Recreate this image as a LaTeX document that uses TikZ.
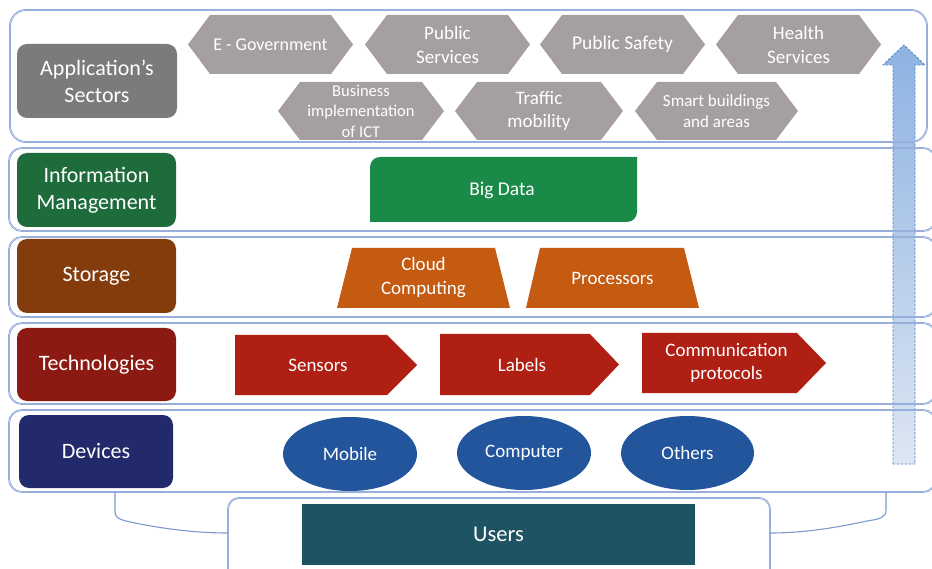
\documentclass[tikz,border=0pt]{standalone}
\usepackage{fontspec}
\setmainfont{Carlito}
\usetikzlibrary{shapes.geometric}

\definecolor{framecol}{HTML}{7C9AD0}
\definecolor{framelite}{HTML}{C9D6EE}
\definecolor{appgray}{HTML}{7B7B7B}
\definecolor{hexgray}{HTML}{A5A09F}
\definecolor{infogreen}{HTML}{1E6B3C}
\definecolor{bdgreen}{HTML}{198A48}
\definecolor{storebrown}{HTML}{843C0C}
\definecolor{storeorange}{HTML}{C55A11}
\definecolor{techred}{HTML}{8C1A12}
\definecolor{arrowred}{HTML}{B01F14}
\definecolor{devnavy}{HTML}{222A6B}
\definecolor{devblue}{HTML}{22559B}
\definecolor{userteal}{HTML}{1E5363}
\definecolor{uptop}{HTML}{8DB3E2}
\definecolor{upbot}{HTML}{DDE6F3}
\definecolor{updash}{HTML}{5A86C6}

% hexagonal sector tag: name, left x, right x, top y, bottom y, text, font
\newcommand\sectortag[7]{%
  \fill[hexgray] (#2,{(#4+#5)/2}) -- (#2+22,#4) -- (#3-22,#4) -- (#3,{(#4+#5)/2})
    -- (#3-22,#5) -- (#2+22,#5) -- cycle;
  \node[wtext, font=#7] (#1) at ({(#2+#3)/2},{(#4+#5)/2}) {#6};}

% arrow-shaped technology tag: name, left x, tip start x, tip x, top y, bottom y, text
\newcommand\techtag[7]{%
  \fill[arrowred] (#2,#5) -- (#3,#5) -- (#4,{(#5+#6)/2}) -- (#3,#6) -- (#2,#6) -- cycle;
  \node[wtext, font=\fontsize{19}{23}\selectfont] (#1) at ({(#2+#3)/2+7},{(#5+#6)/2}) {#7};}

% trapezoid storage tag: name, bottom left, top left, top right, bottom right, top y, bottom y, text
\newcommand\storetag[8]{%
  \fill[storeorange] (#2,#7) -- (#3,#6) -- (#4,#6) -- (#5,#7) -- cycle;
  \node[wtext, font=\fontsize{19}{24}\selectfont] (#1) at ({(#2+#5)/2},{(#6+#7)/2}) {#8};}

\begin{document}
\begin{tikzpicture}[x=1pt, y=-1pt,
  wtext/.style={text=white, align=center, inner sep=0pt},
  layer/.style={draw=framecol, line width=0.55pt, double=framelite, double distance=0.7pt,
    rounded corners=13pt, inner sep=0pt},
  sidelabel/.style={wtext, rounded corners=10pt, minimum width=159pt, minimum height=74pt,
    font=\fontsize{22}{27}\selectfont},
  device/.style={wtext, ellipse, fill=devblue, minimum width=134pt, minimum height=74pt,
    font=\fontsize{19}{22}\selectfont},
  bracket/.style={draw=framecol, line width=1.1pt},
]
\useasboundingbox (0,0) rectangle (932,569);
\clip (0,0) rectangle (932,569);

% upward arrow running through all layers
\shade[top color=uptop, bottom color=upbot]
  (893,464) -- (893,65) -- (883,65) -- (904,45) -- (925,65) -- (915,65) -- (915,464) -- cycle;
\draw[updash, line width=0.9pt, dash pattern=on 2.5pt off 1.5pt]
  (893,464) -- (893,65) -- (883,65) -- (904,45) -- (925,65) -- (915,65) -- (915,464) -- cycle;

% layer frames
\node[layer, rounded corners=16pt, minimum width=917pt, minimum height=132pt] (fapp) at (468.5,76) {};
\node[layer, minimum width=927pt, minimum height=83pt] (finfo) at (472.5,189.5) {};
\node[layer, minimum width=927pt, minimum height=80pt] (fstore) at (472.5,277) {};
\node[layer, minimum width=927pt, minimum height=81pt] (ftech) at (472.5,363.5) {};
\node[layer, minimum width=927pt, minimum height=82pt] (fdev) at (472.5,451) {};
\node[layer, rounded corners=11pt, minimum width=542pt, minimum height=102pt] (fusers) at (499,549) {};

% brackets joining the device layer to the users frame
\coordinate (bl) at (115,492);
\coordinate (br) at (886,492);
\coordinate (ul) at (228,533);
\coordinate (ur) at (770,533);
\draw[bracket] (bl) -- (115,511) .. controls (115,519) and (121,520) .. (135,523)
  .. controls (170,530) and (200,533) .. (ul);
\draw[bracket] (br) -- (886,510) .. controls (886,517) and (881,519) .. (867,521)
  .. controls (830,529) and (800,533) .. (ur);

% side labels
\node[sidelabel, fill=appgray, minimum width=160pt] (app) at (97,81) {Application’s\\Sectors};
\node[sidelabel, fill=infogreen] (info) at (96.5,190) {Information\\Management};
\node[sidelabel, fill=storebrown] (store) at (96.5,276) {Storage};
\node[sidelabel, fill=techred, minimum height=73pt] (tech) at (96.5,364.5) {Technologies};
\node[sidelabel, fill=devnavy, minimum width=154pt, minimum height=73pt] (dev) at (96,451.5) {Devices};

% application sectors
\sectortag{egov}{188}{353}{15}{74}{E - Government}{\fontsize{18}{24}\selectfont}
\sectortag{pubserv}{365}{530}{15}{74}{Public\\Services}{\fontsize{19}{24}\selectfont}
\sectortag{pubsafe}{540}{705}{15}{74}{Public Safety}{\fontsize{19.5}{24}\selectfont}
\sectortag{health}{716}{881}{15}{74}{Health\\Services}{\fontsize{19}{24}\selectfont}
\sectortag{business}{278}{444}{82}{140}{Business\\implementation\\of ICT}{\fontsize{16.5}{20.5}\selectfont}
\sectortag{traffic}{455}{623}{82}{140}{Traffic\\mobility}{\fontsize{19}{23}\selectfont}
\sectortag{smart}{635}{798}{82}{140}{Smart buildings\\and areas}{\fontsize{17}{21}\selectfont}

% information management
\fill[bdgreen] (370,222) -- (370,167) arc[start angle=180, end angle=270, radius=10]
  -- (637,157) -- (637,212) arc[start angle=0, end angle=90, radius=10] -- cycle;
\node[wtext, font=\fontsize{19.5}{22}\selectfont] (bigdata) at (502,190) {Big Data};

% storage
\storetag{cloud}{337}{352}{495}{510}{248}{308}{Cloud\\Computing}
\storetag{proc}{526}{540}{684}{699}{248}{308}{Processors}

% technologies
\techtag{sensors}{235}{387}{417}{335}{395}{Sensors}
\techtag{labels}{440}{590}{619}{334}{395}{Labels}
\techtag{comm}{642}{797}{826}{333}{393}{Communication\\protocols}

% devices
\node[device] (mobile) at (350,454) {Mobile};
\node[device] (computer) at (524,453) {Computer};
\node[device, minimum width=133pt] (others) at (687.5,453) {Others};

% users
\node[wtext, fill=userteal, minimum width=393pt, minimum height=61pt,
  font=\fontsize{22.5}{26}\selectfont] (users) at (498.5,534.5) {Users};

\end{tikzpicture}
\end{document}
